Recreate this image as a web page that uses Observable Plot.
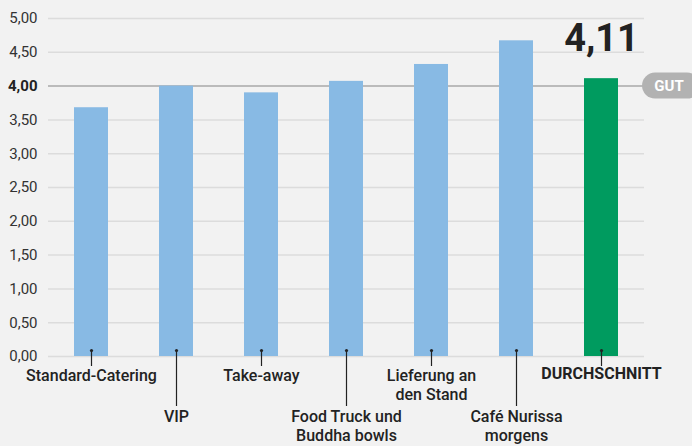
<!DOCTYPE html>
<html>
<head>
<meta charset="utf-8">
<script src="https://cdn.jsdelivr.net/npm/d3@7"></script>
<script src="https://cdn.jsdelivr.net/npm/@observablehq/plot@0.6"></script>
<style>
  html, body { margin: 0; padding: 0; background: #f2f2f2; }
  #chart { width: 692px; height: 446px; overflow: hidden; }
</style>
</head>
<body>
<div id="chart"></div>
<script>
const categories = ["Standard-Catering", "VIP", "Take-away", "Food Truck und\nBuddha bowls", "Lieferung an\nden Stand", "Café Nurissa\nmorgens", "DURCHSCHNITT"];
const values = [3.68, 4.00, 3.90, 4.07, 4.32, 4.67, 4.11];
const yTicks = [0, 0.5, 1, 1.5, 2, 2.5, 3, 3.5, 4, 4.5, 5];
const benchmark = 4;
const benchmarkLabel = "GUT";
const averageCategory = "DURCHSCHNITT";

const fmt = d => d.toFixed(2).replace(".", ",");
const data = categories.map((c, i) => ({cat: c, value: values[i], row: i % 2, avg: c === averageCategory}));

const blue = "#88bae4";
const green = "#009b5f";
const font = "Roboto, 'Noto Sans', sans-serif";

const plot = Plot.plot({
  width: 692,
  height: 446,
  marginLeft: 48,
  marginRight: 48,
  marginTop: 18,
  marginBottom: 90,
  style: {background: "#f2f2f2", fontFamily: font, fontSize: "15px", color: "#333", overflow: "visible"},
  x: {domain: categories, paddingInner: 0.6, paddingOuter: 0.295, axis: null},
  y: {domain: [0, 5], axis: null},
  marks: [
    Plot.ruleY(yTicks.filter(d => d !== benchmark), {stroke: "#dcdcdc", strokeWidth: 1.5}),
    Plot.ruleY([benchmark], {stroke: "#a8a8a8", strokeWidth: 1.5}),
    Plot.axisY(yTicks.filter(d => d !== benchmark), {label: null, tickSize: 0, tickPadding: 11, tickFormat: fmt, fontSize: 15, fill: "#333"}),
    Plot.axisY([benchmark], {label: null, tickSize: 0, tickPadding: 11, tickFormat: fmt, fontSize: 15, fontWeight: "bold", fill: "#222"}),
    Plot.barY(data.filter(d => !d.avg), {x: "cat", y: "value", fill: blue}),
    Plot.barY(data.filter(d => d.avg), {x: "cat", y: "value", fill: green}),
    Plot.ruleX(data.filter(d => d.row === 0), {x: "cat", y1: 0, y2: 0, insetTop: -6, insetBottom: -10, stroke: "#222", strokeWidth: 1.2}),
    Plot.ruleX(data.filter(d => d.row === 1), {x: "cat", y1: 0, y2: 0, insetTop: -6, insetBottom: -50, stroke: "#222", strokeWidth: 1.2}),
    Plot.dot(data, {x: "cat", y: 0, dy: -6, r: 1.6, fill: "#222", stroke: null}),
    Plot.text(data.filter(d => d.row === 0 && !d.avg), {x: "cat", y: 0, text: "cat", lineAnchor: "top", dy: 11, fontSize: 16, fontWeight: 500, lineHeight: 1.2, fill: "#222"}),
    Plot.text(data.filter(d => d.row === 0 && d.avg), {x: "cat", y: 0, text: "cat", lineAnchor: "top", dy: 11, fontSize: 16, fontWeight: "bold", fill: "#222"}),
    Plot.text(data.filter(d => d.row === 1), {x: "cat", y: 0, text: "cat", lineAnchor: "top", dy: 52, fontSize: 16, fontWeight: 500, lineHeight: 1.2, fill: "#222"}),
    Plot.text(data.filter(d => d.avg), {x: "cat", y: "value", text: d => fmt(d.value), lineAnchor: "bottom", dy: -28, fontSize: 38, fontWeight: "bold", fill: "#222"})
  ]
});

// benchmark badge
const yScale = plot.scale("y");
const yb = yScale.apply(benchmark);
const svg = d3.select(plot);
const g = svg.append("g");
g.append("rect").attr("x", 642).attr("y", yb - 13).attr("width", 58).attr("height", 26).attr("rx", 13).attr("fill", "#b2b2b2");
g.append("text").attr("x", 669).attr("y", yb).attr("dy", "0.36em").attr("text-anchor", "middle")
  .attr("fill", "#fff").attr("font-weight", "bold").attr("font-size", 15).attr("font-family", font).text(benchmarkLabel);

document.getElementById("chart").appendChild(plot);
</script>
</body>
</html>
